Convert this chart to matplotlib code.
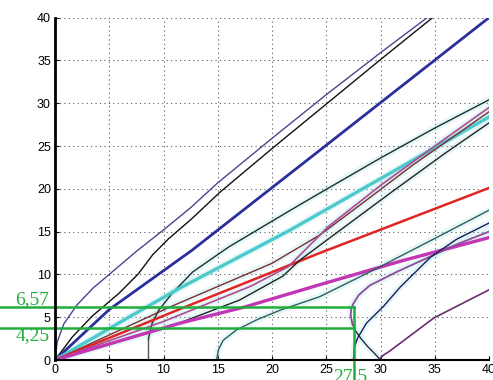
import matplotlib
matplotlib.use("Agg")
import matplotlib.pyplot as plt

# dispersion branches (x = frequency, y = wavenumber)
a_x = [0, 0.2, 0.8, 2, 3.5, 5, 7.5, 10, 12.5, 15, 20, 25, 30, 34.3]
a_y = [0, 2.1, 4.2, 6.4, 8.4, 10.0, 12.7, 15.2, 17.8, 20.7, 25.9, 31.0, 35.9, 40]

b_x = [0, 1.6, 3.4, 5.9, 7.7, 9, 10.5, 12.6, 15.2, 20, 25, 30, 34.8]
b_y = [0, 2.7, 5.1, 7.8, 10.1, 12.3, 14.2, 16.5, 19.6, 24.7, 29.9, 35.1, 40]

blue_x = [0, 5, 12.6, 24.4, 40]
blue_y = [0, 5.9, 12.8, 24.5, 40]

e_x = [8.62, 8.7, 8.95, 9.55, 10.8, 12.7, 16, 21.7, 24.4, 30, 35, 40]
e_y = [2.5, 3.0, 4.3, 5.8, 7.8, 10.3, 13.2, 17.5, 19.5, 23.6, 27.1, 30.4]

cyan_x = [0, 6.8, 11.5, 21.7, 40]
cyan_y = [0, 5, 8.4, 15.2, 28.4]

red_x = [0, 12, 24.4, 40]
red_y = [0, 6.2, 12.5, 20.1]

brown_x = [0, 10.6, 20, 24.4, 28, 33, 40]
brown_y = [0, 6.2, 11.3, 14.6, 18.0, 22.8, 29.0]

pink_x = [0, 10, 18, 21.5, 23, 25.2, 30, 35, 40]
pink_y = [0, 4.5, 8.6, 10.9, 12.8, 15.6, 20.4, 25, 29.5]

blk_x = [0, 10.6, 17, 21, 22.6, 26, 31, 36, 40]
blk_y = [0, 3.9, 7.0, 9.8, 11.7, 14.9, 19.6, 24.2, 27.7]

mag_x = [0, 11.5, 17.5, 24.4, 32, 40]
mag_y = [0, 4.3, 6.2, 8.8, 11.6, 14.3]

teal_x = [14.9, 15.05, 15.5, 16.7, 18.6, 20.7, 24.4, 29.5, 35, 40]
teal_y = [0, 1.17, 2.3, 3.5, 4.7, 5.8, 7.4, 10.6, 14.2, 17.5]

back_x = [30, 29.5, 28.8, 28.2, 27.7, 27.4, 27.25, 27.3, 27.5, 28, 29, 31.5, 34.6, 37, 40]
back_y = [0, 0.7, 1.6, 2.5, 3.4, 4.25, 5.2, 6.0, 6.6, 7.6, 8.7, 10.3, 12.1, 13.5, 15.0]

navy_x = [27.5, 27.6, 27.9, 28.7, 30.3, 31.8, 34.6, 37, 40]
navy_y = [0, 1.5, 2.6, 4.3, 6.3, 8.5, 12.0, 14.1, 16.0]

low_x = [29.9, 30.0, 30.3, 30.8, 31.8, 34.9, 40]
low_y = [0, 0.25, 0.6, 1.0, 1.95, 4.9, 8.2]

cut_x = 8.6
cut_top = 2.5

# green marker lines (drawn position) and their labels
mark_f = 27.6
mark_hi, mark_lo = 6.15, 3.7
lab_hi, lab_lo, lab_f = "6,57", "4,25", "27,5"

ticks = [0, 5, 10, 15, 20, 25, 30, 35, 40]
green = "#1fae3c"

fig = plt.figure(figsize=(4.93, 3.8), dpi=100)
ax = fig.add_axes([0.1116, 0.0526, 0.8803, 0.901])

halo = dict(color="#7fd8d8", lw=5, alpha=0.18, solid_capstyle="round")
for xs, ys in [(e_x, e_y), (cyan_x, cyan_y), (teal_x, teal_y), (brown_x, brown_y),
               (pink_x, pink_y), (blk_x, blk_y), (back_x, back_y), (navy_x, navy_y)]:
    ax.plot(xs, ys, **halo)

ax.plot(a_x, a_y, color="#4a4590", lw=1.0)
ax.plot(b_x, b_y, color="#111111", lw=1.0)
ax.plot(blue_x, blue_y, color="#2b2f9c", lw=2.0)
ax.plot([cut_x, cut_x], [0, cut_top], color="#555555", lw=1.0)
ax.plot(e_x, e_y, color="#1d2e2e", lw=1.0)
ax.plot(cyan_x, cyan_y, color="#4cc9cc", lw=2.4)
ax.plot(brown_x, brown_y, color="#7a2e34", lw=1.0)
ax.plot(red_x, red_y, color="#e02424", lw=1.8)
ax.plot(blk_x, blk_y, color="#222222", lw=1.0)
ax.plot(pink_x, pink_y, color="#b04a92", lw=1.2)
ax.plot(mag_x, mag_y, color="#c236b4", lw=2.4)
ax.plot(teal_x, teal_y, color="#2f5e5e", lw=1.0)
ax.plot(back_x[:6], back_y[:6], color="#2a2a3a", lw=1.0)
ax.plot(back_x[5:], back_y[5:], color="#8e4c9e", lw=1.3)
ax.plot(navy_x, navy_y, color="#1c1c5c", lw=1.0)
ax.plot(low_x, low_y, color="#6c2c70", lw=1.2)

# green markers
ax.plot([-5.1, mark_f], [mark_hi, mark_hi], color=green, lw=1.8, clip_on=False)
ax.plot([-5.1, mark_f], [mark_lo, mark_lo], color=green, lw=1.8, clip_on=False)
ax.plot([mark_f, mark_f], [-2.6, mark_hi], color=green, lw=1.8, clip_on=False)
tfont = dict(family="Liberation Serif", size=14, color=green)
ax.text(-0.5, 6.55, lab_hi, ha="right", va="baseline", **tfont)
ax.text(-0.5, 2.3, lab_lo, ha="right", va="baseline", **tfont)
ax.text(27.2, -0.9, lab_f, ha="center", va="top", **tfont)

ax.set_xlim(0, 40)
ax.set_ylim(0, 40)
ax.set_xticks(ticks)
ax.set_yticks(ticks)
ax.tick_params(direction="in", length=3, labelsize=9, pad=3)
for lab in ax.get_xticklabels() + ax.get_yticklabels():
    lab.set_family("Liberation Sans")
ax.grid(True, linestyle=(0, (1, 3)), color="#555555", lw=0.8)
ax.spines["top"].set_visible(False)
ax.spines["right"].set_visible(False)
ax.spines["left"].set_linewidth(2.0)
ax.spines["bottom"].set_linewidth(1.5)

fig.savefig("out.png", dpi=100)
